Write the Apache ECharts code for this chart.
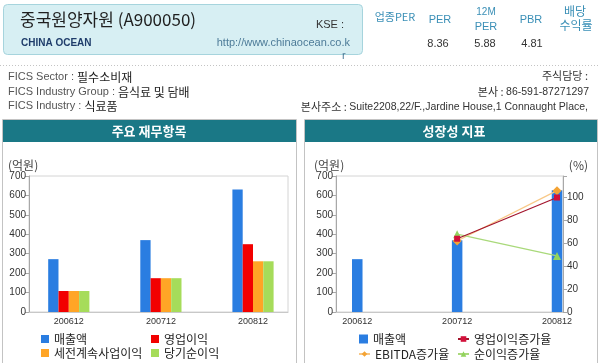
<!DOCTYPE html>
<html><head><meta charset="utf-8">
<script src="https://cdn.jsdelivr.net/npm/echarts@6/dist/echarts.min.js"></script>
<style>html,body{margin:0;padding:0;background:#fff}#c{width:599px;height:363px}</style>
</head><body><div id="c"></div>
<script>
// ---- data ----
const categories = ['200612', '200712', '200812'];
const salesLeft = [272, 370, 630];
const opProfit = [108, 174, 349];
const pretaxProfit = [108, 174, 261];
const netProfit = [108, 174, 261];
const salesRight = [272, 369, 627];
const opGrowth = [null, 64, 100];
const ebitdaGrowth = [null, 62, 106];
const netGrowth = [null, 68, 49];
const leftAxisTicks = [0, 100, 200, 300, 400, 500, 600, 700];
const pctAxisTicks = [0, 20, 40, 60, 80, 100];

const KR = '"Noto Sans CJK KR", sans-serif';
const LAT = '"Liberation Sans", Arial, sans-serif';

const pts = arr => arr.map((v, i) => [i, v]).filter(p => p[1] != null);
const catFmt = v => {
  const r = Math.round(v);
  return Math.abs(v - r) < 1e-6 && categories[r] !== undefined ? categories[r] : '';
};

const chart = echarts.init(document.getElementById('c'), null, {renderer: 'canvas'});

function xAxisCfg(grid, min, max) {
  return {type: 'value', gridIndex: grid, min: min, max: max, splitNumber: 5,
    splitLine: {show: false}, axisTick: {show: false},
    axisLine: {show: true, onZero: false, lineStyle: {color: '#c8c8c8'}},
    axisLabel: {formatter: catFmt, fontSize: 9, color: '#333', fontFamily: LAT, margin: 5}};
}
function yLeftCfg(grid) {
  return {type: 'value', gridIndex: grid, position: 'left',
    min: leftAxisTicks[0], max: leftAxisTicks[leftAxisTicks.length - 1], interval: 100,
    splitLine: {show: false}, axisLine: {show: true, onZero: false, lineStyle: {color: '#a8a8a8'}},
    axisTick: {show: true, length: 4, lineStyle: {color: '#a8a8a8'}},
    axisLabel: {fontSize: 10, color: '#333', fontFamily: LAT, margin: 3}};
}

const legendBase = {padding: 0, itemGap: 0, textStyle: {fontSize: 12, fontFamily: KR, color: '#222'}, selectedMode: false};
function lg(name, left, top, icon, w, h) {
  return Object.assign({}, legendBase, {data: [{name: name, icon: icon}], left: left, top: top, itemWidth: w, itemHeight: h});
}

const option = {
  animation: false,
  backgroundColor: '#fff',
  grid: [
    {left: 29, top: 176, width: 259, height: 136, show: true, borderColor: '#d4d4d4', borderWidth: 1, backgroundColor: 'transparent'},
    {left: 336, top: 176, width: 227, height: 136, show: true, borderColor: '#d4d4d4', borderWidth: 1, backgroundColor: 'transparent'}
  ],
  xAxis: [xAxisCfg(0, -0.432, 2.38), xAxisCfg(1, -0.213, 2.06)],
  yAxis: [
    yLeftCfg(0),
    yLeftCfg(1),
    {type: 'value', gridIndex: 1, position: 'right', min: 0, max: 118.8, interval: 20,
      splitLine: {show: false}, axisLine: {show: true, onZero: false, lineStyle: {color: '#a8a8a8'}},
      axisTick: {show: true, length: 4, lineStyle: {color: '#a8a8a8'}},
      axisLabel: {fontSize: 10, color: '#333', fontFamily: LAT, margin: 4,
        formatter: v => (pctAxisTicks.indexOf(Math.round(v * 1000) / 1000) >= 0 ? String(v) : '')}}
  ],
  legend: [
    lg('매출액', 41, 333, 'rect', 8, 8),
    lg('영업이익', 151, 333, 'rect', 8, 8),
    lg('세전계속사업이익', 41, 347, 'rect', 8, 8),
    lg('당기순이익', 151, 347, 'rect', 8, 8),
    lg('매출액 ', 359, 333, 'rect', 9, 9),
    lg('영업이익증가율', 457, 333, null, 11, 7),
    lg('EBITDA증가율', 358, 348, null, 11, 7),
    lg('순이익증가율', 457, 348, null, 11, 7)
  ],
  series: [
    {name: '매출액', type: 'bar', xAxisIndex: 0, yAxisIndex: 0, barWidth: 10.3, barGap: '0%', itemStyle: {color: '#2a7de1'}, data: pts(salesLeft)},
    {name: '영업이익', type: 'bar', xAxisIndex: 0, yAxisIndex: 0, barWidth: 10.3, barGap: '0%', itemStyle: {color: '#f20000'}, data: pts(opProfit)},
    {name: '세전계속사업이익', type: 'bar', xAxisIndex: 0, yAxisIndex: 0, barWidth: 10.3, barGap: '0%', itemStyle: {color: '#ffa526'}, data: pts(pretaxProfit)},
    {name: '당기순이익', type: 'bar', xAxisIndex: 0, yAxisIndex: 0, barWidth: 10.3, barGap: '0%', itemStyle: {color: '#a6dc5a'}, data: pts(netProfit)},
    {name: '매출액 ', type: 'bar', xAxisIndex: 1, yAxisIndex: 1, barWidth: 10.5, itemStyle: {color: '#2a7de1'}, data: pts(salesRight)},
    {name: 'EBITDA증가율', type: 'line', xAxisIndex: 1, yAxisIndex: 2, symbol: 'diamond', symbolSize: 9,
      itemStyle: {color: '#f4a334'}, lineStyle: {color: '#f8c887', width: 1.2}, data: pts(ebitdaGrowth), z: 3},
    {name: '순이익증가율', type: 'line', xAxisIndex: 1, yAxisIndex: 2, symbol: 'triangle', symbolSize: 8,
      itemStyle: {color: '#92d35e'}, lineStyle: {color: '#a9d97a', width: 1.2}, data: pts(netGrowth), z: 3},
    {name: '영업이익증가율', type: 'line', xAxisIndex: 1, yAxisIndex: 2, symbol: 'rect', symbolSize: 6,
      itemStyle: {color: '#d2103a'}, lineStyle: {color: '#a3142c', width: 1.2}, data: pts(opGrowth), z: 4}
  ],
  graphic: [
    // header box
    {type: 'rect', z: -10, shape: {x: 3.5, y: 4.5, width: 359, height: 50, r: 4}, style: {fill: '#d7eff3', stroke: '#a6d4dd', lineWidth: 1}},
    {type: 'text', x: 20, y: 20, style: {text: '중국원양자원 (A900050)', font: '17px ' + KR, fill: '#1f1f1f', verticalAlign: 'middle'}},
    {type: 'text', x: 21, y: 43, style: {text: 'CHINA OCEAN', font: 'bold 10px ' + LAT, fill: '#1f3d6b', verticalAlign: 'middle'}},
    {type: 'text', x: 350, y: 43, style: {text: 'http://www.chinaocean.co.k', font: '11px ' + LAT, fill: '#4d7b98', verticalAlign: 'middle', align: 'right'}},
    {type: 'text', x: 342, y: 56, style: {text: 'r', font: '11px ' + LAT, fill: '#4d7b98', verticalAlign: 'middle'}},
    {type: 'text', x: 344, y: 25, style: {text: 'KSE :', font: '11px ' + LAT, fill: '#333', verticalAlign: 'middle', align: 'right'}},
    // metrics header
    {type: 'text', x: 395, y: 17, style: {text: '업종PER', font: '11px ' + KR, fill: '#3a8fb6', verticalAlign: 'middle', align: 'center'}},
    {type: 'text', x: 440, y: 20, style: {text: 'PER', font: '11px ' + LAT, fill: '#3a8fb6', verticalAlign: 'middle', align: 'center'}},
    {type: 'text', x: 486, y: 12.5, style: {text: '12M', font: '10px ' + LAT, fill: '#3a8fb6', verticalAlign: 'middle', align: 'center'}},
    {type: 'text', x: 486, y: 26.5, style: {text: 'PER', font: '11px ' + LAT, fill: '#3a8fb6', verticalAlign: 'middle', align: 'center'}},
    {type: 'text', x: 531, y: 20, style: {text: 'PBR', font: '11px ' + LAT, fill: '#3a8fb6', verticalAlign: 'middle', align: 'center'}},
    {type: 'text', x: 575, y: 11, style: {text: '배당', font: '12px ' + KR, fill: '#3a8fb6', verticalAlign: 'middle', align: 'center'}},
    {type: 'text', x: 576, y: 25, style: {text: '수익률', font: '12px ' + KR, fill: '#3a8fb6', verticalAlign: 'middle', align: 'center'}},
    {type: 'text', x: 438, y: 44, style: {text: '8.36', font: '11px ' + LAT, fill: '#333', verticalAlign: 'middle', align: 'center'}},
    {type: 'text', x: 485, y: 44, style: {text: '5.88', font: '11px ' + LAT, fill: '#333', verticalAlign: 'middle', align: 'center'}},
    {type: 'text', x: 532, y: 44, style: {text: '4.81', font: '11px ' + LAT, fill: '#333', verticalAlign: 'middle', align: 'center'}},
    // separator
    {type: 'line', shape: {x1: 0, y1: 65.5, x2: 599, y2: 65.5}, style: {stroke: '#c4c4c4', lineWidth: 1, lineDash: [1, 2]}},
    // FICS info
    {type: 'text', x: 8, y: 77, style: {rich: {a: {font: '11px ' + LAT, fill: '#555'}, b: {font: '12px ' + KR, fill: '#222'}}, text: '{a|FICS Sector : }{b|필수소비재}', verticalAlign: 'middle'}},
    {type: 'text', x: 8, y: 92, style: {rich: {a: {font: '11px ' + LAT, fill: '#555'}, b: {font: '12px ' + KR, fill: '#222'}}, text: '{a|FICS Industry Group : }{b|음식료 및 담배}', verticalAlign: 'middle'}},
    {type: 'text', x: 8, y: 106, style: {rich: {a: {font: '11px ' + LAT, fill: '#555'}, b: {font: '12px ' + KR, fill: '#222'}}, text: '{a|FICS Industry : }{b|식료품}', verticalAlign: 'middle'}},
    {type: 'text', x: 588, y: 76, style: {text: '주식담당 :', font: '11px ' + KR, fill: '#333', verticalAlign: 'middle', align: 'right'}},
    {type: 'text', x: 589, y: 92, style: {rich: {k: {font: '11px ' + KR, fill: '#333'}, e: {font: '10.5px ' + LAT, fill: '#333'}}, text: '{k|본사 : }{e|86-591-87271297}', verticalAlign: 'middle', align: 'right'}},
    {type: 'text', x: 588, y: 107, style: {rich: {k: {font: '11px ' + KR, fill: '#333'}, e: {font: '10.5px ' + LAT, fill: '#333'}}, text: '{k|본사주소 : }{e|Suite2208,22/F.,Jardine House,1 Connaught Place,}', verticalAlign: 'middle', align: 'right'}},
    // panels
    {type: 'rect', z: -10, shape: {x: 2.5, y: 119.5, width: 294, height: 260}, style: {fill: '#fff', stroke: '#c3c3c3', lineWidth: 1}},
    {type: 'rect', z: -10, shape: {x: 304.5, y: 119.5, width: 293, height: 260}, style: {fill: '#fff', stroke: '#c3c3c3', lineWidth: 1}},
    {type: 'rect', z: -9, shape: {x: 3, y: 120, width: 293, height: 22}, style: {fill: '#1a7886'}},
    {type: 'rect', z: -9, shape: {x: 305, y: 120, width: 292, height: 22}, style: {fill: '#1a7886'}},
    {type: 'text', x: 149, y: 131.5, style: {text: '주요 재무항목', font: 'bold 13px ' + KR, fill: '#fff', verticalAlign: 'middle', align: 'center'}},
    {type: 'text', x: 454, y: 131.5, style: {text: '성장성 지표', font: 'bold 13px ' + KR, fill: '#fff', verticalAlign: 'middle', align: 'center'}},
    {type: 'text', x: 8, y: 165, style: {text: '(억원)', font: '12px ' + KR, fill: '#444', verticalAlign: 'middle'}},
    {type: 'text', x: 314, y: 165, style: {text: '(억원)', font: '12px ' + KR, fill: '#444', verticalAlign: 'middle'}},
    {type: 'text', x: 588, y: 165, style: {text: '(%)', font: '12px ' + KR, fill: '#444', verticalAlign: 'middle', align: 'right'}}
  ]
};
chart.setOption(option);
</script></body></html>
